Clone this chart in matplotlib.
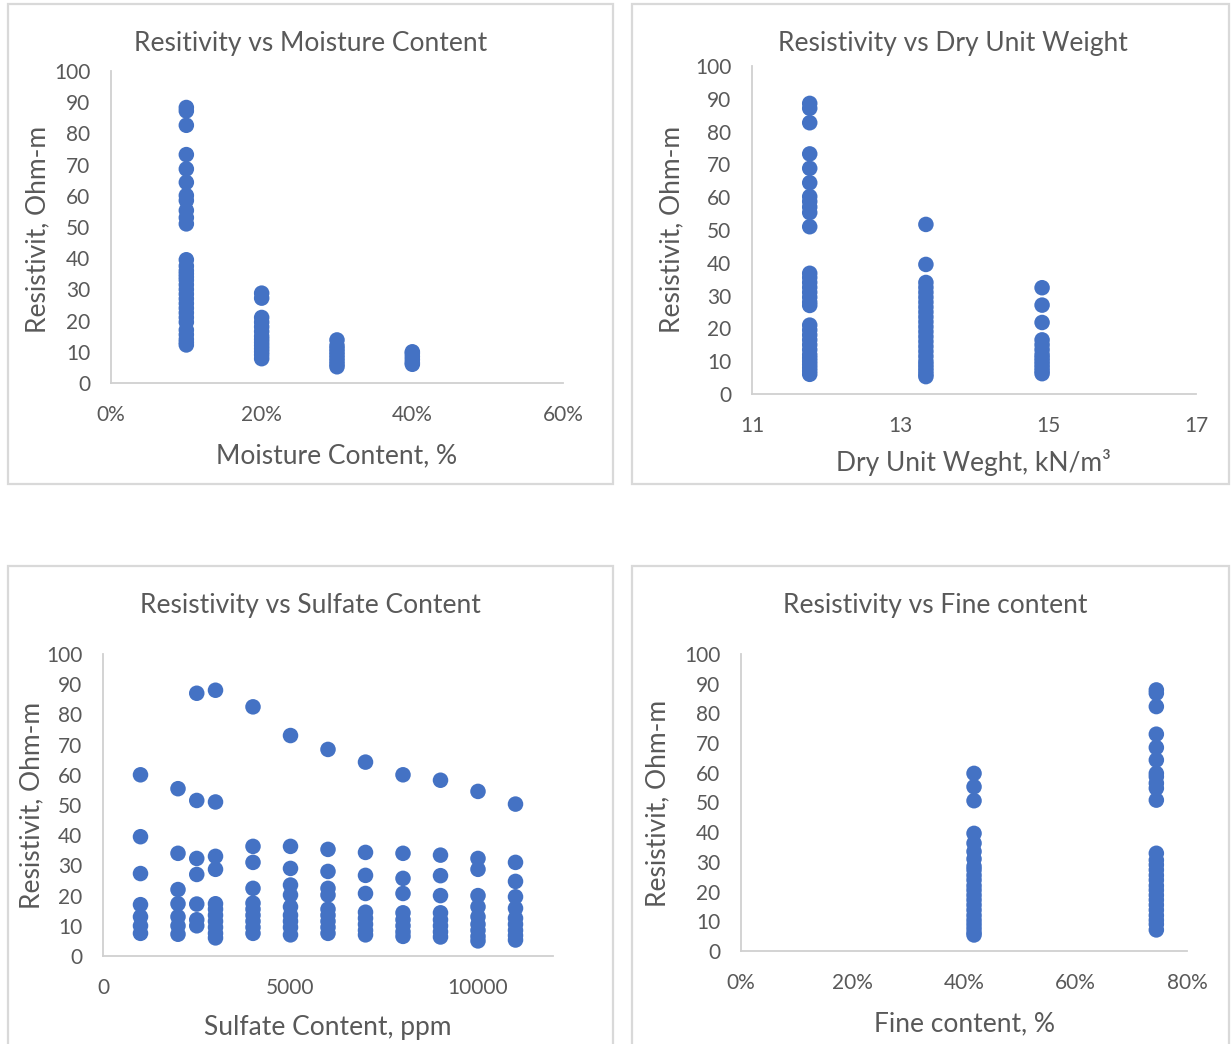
import matplotlib
matplotlib.use("Agg")
import matplotlib.pyplot as plt
from matplotlib.patches import Rectangle
from matplotlib.ticker import FuncFormatter

plt.rcParams["font.family"] = ["Lato", "DejaVu Sans"]

W, H = 1231, 1044
MARKER = "#4472C4"
TEXT = "#595959"
AXIS = "#D0D0D0"
BORDER = "#D9D9D9"

# --- data -------------------------------------------------------------
mc_levels = [0.10, 0.20, 0.30, 0.40]
res_by_mc = [
    [88.3, 87.2, 82.6, 73.2, 68.6, 64.3, 60.1, 58.5, 55.3, 53, 51, 39.5, 37.5,
     36, 35, 34, 33, 31.5, 30, 28.5, 27, 25.5, 24, 22.5, 21, 19.5, 17, 15.5,
     14, 13, 12.2],
    [28.8, 27.2, 21, 19.5, 18, 16.5, 15, 14, 13, 12, 11, 10, 9, 7.8],
    [13.8, 12, 11, 10, 9, 8, 7, 6, 5.2],
    [10, 9.5, 8.5, 7.5, 6.5, 6],
]

duw_levels = [11.78, 13.35, 14.92]
res_by_duw = [
    [88.6, 87.1, 82.7, 73.2, 68.8, 64.4, 60.2, 58.7, 57, 55.3, 51, 36.8, 35.5,
     34, 32.5, 31, 29.5, 28, 27, 21, 19.5, 18, 16.5, 15, 13.5, 12, 11, 10, 9,
     8, 7, 6],
    [51.7, 39.5, 34, 32.5, 31, 29.5, 28, 26.5, 25, 23.5, 22, 20.5, 19, 17.5,
     16, 14.5, 13, 11.5, 10, 9, 8, 7, 6, 5.3],
    [32.4, 27.1, 21.8, 16.5, 15, 13.5, 12, 11, 10, 9, 8, 7, 6.2],
]

sulfate_levels = [1000, 2000, 2500, 3000, 4000, 5000, 6000, 7000, 8000, 9000,
                  10000, 11000]
res_by_sulfate = [
    [60, 39.5, 27.3, 17, 13, 10, 7.5],
    [55.4, 34, 22, 17.3, 13, 10, 7.2],
    [87, 51.5, 32.3, 27, 17.2, 12, 10],
    [88, 51, 33, 28.7, 17.3, 15.5, 13.5, 11.5, 9.5, 7.5, 6],
    [82.5, 36.3, 31, 22.4, 17.5, 15.5, 13.5, 11.5, 9.5, 7.5],
    [73, 36.3, 29, 23.5, 20.2, 16.3, 13.5, 11.5, 9.5, 7],
    [68.4, 35.3, 28, 22.4, 20.2, 15.5, 13.5, 11.5, 9.5, 7.5],
    [64.2, 34.3, 26.7, 20.7, 14.5, 12.5, 10.5, 8.5, 7],
    [60, 34, 25.7, 20.7, 14.3, 12, 10, 8, 6.5],
    [58.2, 33.4, 26.6, 20, 14.3, 12, 10, 8, 6.3],
    [54.5, 32.3, 28.7, 20, 16.3, 13, 10.5, 8.5, 6.5, 5],
    [50.3, 31, 24.7, 19.6, 15.8, 12.5, 10.5, 8.5, 6.8, 5.3],
]

fines_levels = [0.418, 0.745]
res_by_fines = [
    [59.8, 55.3, 50.6, 39.6, 36.3, 33.5, 31, 28.5, 27.3, 25.5, 23.9, 22, 20.5,
     18.8, 17.2, 15.5, 13.8, 12, 10.4, 9, 7.6, 6.2, 5.4],
    [87.9, 86.8, 82.3, 73, 68.5, 64.3, 59.8, 58.7, 56.5, 54.8, 50.8, 32.9,
     30.6, 29, 27.3, 25.5, 23.9, 22, 20.5, 18.8, 17.2, 15.5, 13.8, 12, 10.4,
     9, 7.1],
]

titles = ["Resitivity vs Moisture Content", "Resistivity vs Dry Unit Weight",
          "Resistivity vs Sulfate Content", "Resistivity vs Fine content"]
xlabels = ["Moisture Content, %", "Dry Unit Weght, kN/m\u00b3",
           "Sulfate Content, ppm", "Fine content, %"]
ylabel = "Resistivit, Ohm-m"

# --- layout helpers (pixel coordinates, origin top-left) ---------------
fig = plt.figure(figsize=(W / 100, H / 100), dpi=100)
fig.patch.set_facecolor("white")


def fx(x):
    return x / W


def fy(y):
    return 1 - y / H


def add_axes_px(x0, y0, x1, y1):
    return fig.add_axes([fx(x0), fy(y1), (x1 - x0) / W, (y1 - y0) / H])


def border(x0, y0, x1, y1):
    fig.add_artist(Rectangle((fx(x0), fy(y1)), (x1 - x0) / W, (y1 - y0) / H,
                             transform=fig.transFigure, fill=False,
                             edgecolor=BORDER, linewidth=1.6))


def text_px(x, y, s, size, rotation=0):
    fig.text(fx(x), fy(y), s, ha="center", va="center", fontsize=size,
             color=TEXT, rotation=rotation)


pct = FuncFormatter(lambda v, _: f"{v * 100:.0f}%")

border(8, 4, 613, 484)
border(632, 4, 1229, 484)
border(8, 566, 613, 1060)
border(632, 566, 1229, 1060)

panels = [
    dict(box=(111, 71, 563, 383), xlim=(0, 0.6), xt=[0, 0.2, 0.4, 0.6],
         fmt=pct, levels=mc_levels, groups=res_by_mc,
         title=(311, 43), xlab=(337, 456), ylab=(38, 229)),
    dict(box=(752, 66, 1196, 394), xlim=(11, 17), xt=[11, 13, 15, 17],
         fmt=None, levels=duw_levels, groups=res_by_duw,
         title=(953, 43), xlab=(973, 462), ylab=(672, 229)),
    dict(box=(103, 654, 553, 956), xlim=(0, 12000), xt=[0, 5000, 10000],
         fmt=None, levels=sulfate_levels, groups=res_by_sulfate,
         title=(310, 605), xlab=(328, 1027), ylab=(32, 805)),
    dict(box=(741, 654, 1187, 951), xlim=(0, 0.8),
         xt=[0, 0.2, 0.4, 0.6, 0.8], fmt=pct, levels=fines_levels,
         groups=res_by_fines, title=(935, 605), xlab=(964, 1024),
         ylab=(658, 803)),
]

for i, p in enumerate(panels):
    ax = add_axes_px(*p["box"])
    xs, ys = [], []
    for lvl, vals in zip(p["levels"], p["groups"]):
        xs += [lvl] * len(vals)
        ys += vals
    ax.scatter(xs, ys, s=125, color=MARKER, edgecolors="none", zorder=3,
               clip_on=False)
    ax.set_xlim(*p["xlim"])
    ax.set_ylim(0, 100)
    ax.set_xticks(p["xt"])
    ax.set_yticks(range(0, 101, 10))
    if p["fmt"] is not None:
        ax.xaxis.set_major_formatter(p["fmt"])
    for side in ("top", "right"):
        ax.spines[side].set_visible(False)
    for side in ("left", "bottom"):
        ax.spines[side].set_color(AXIS)
        ax.spines[side].set_linewidth(1.3)
    ax.tick_params(axis="both", length=0, labelsize=15, colors=TEXT)
    ax.tick_params(axis="y", pad=15)
    ax.tick_params(axis="x", pad=16)
    ax.set_facecolor("none")
    text_px(*p["title"], titles[i], 19)
    text_px(*p["xlab"], xlabels[i], 19)
    text_px(*p["ylab"], ylabel, 19, rotation=90)

fig.savefig("out.png", dpi=100, facecolor="white")
